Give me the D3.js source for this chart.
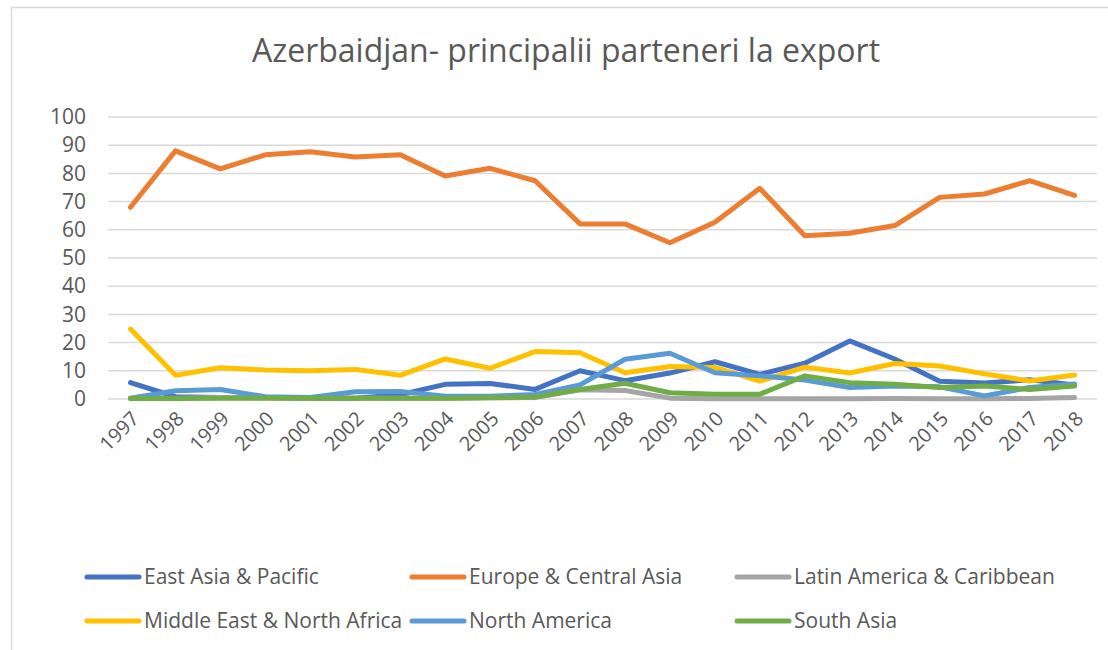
<!DOCTYPE html>
<html>
<head>
<meta charset="utf-8">
<script src="https://cdn.jsdelivr.net/npm/d3@7"></script>
<style>
  body { margin: 0; background: #fff; }
  svg { display: block; font-family: "Open Sans", "Liberation Sans", sans-serif; }
</style>
</head>
<body>
<svg id="chart"></svg>
<script>
// years on the x axis
var years = ["1997", "1998", "1999", "2000", "2001", "2002", "2003", "2004", "2005", "2006", "2007",
  "2008", "2009", "2010", "2011", "2012", "2013", "2014", "2015", "2016", "2017", "2018"];

var yTicks = [0, 10, 20, 30, 40, 50, 60, 70, 80, 90, 100];

// share of exports (%) per region
var eastAsia = [5.8, 0.8, 0.5, 0.5, 0.3, 0.3, 1.5, 5.2, 5.5, 3.4, 10.0, 6.5, 9.2, 13.2, 8.7, 12.7, 20.6, 14.2, 6.3, 5.7, 6.8, 5.0];
var europe = [68.0, 88.0, 81.6, 86.6, 87.7, 85.8, 86.6, 79.1, 81.8, 77.4, 62.1, 62.1, 55.4, 62.7, 74.7, 57.9, 58.8, 61.5, 71.5, 72.7, 77.4, 72.2];
var latinAmerica = [0.3, 0.3, 0.5, 0.4, 0.3, 0.3, 0.3, 0.3, 0.4, 0.5, 3.3, 3.0, 0.3, 0.1, 0.1, 0.1, 0.1, 0.2, 0.1, 0.1, 0.2, 0.5];
var middleEast = [24.8, 8.4, 11.1, 10.3, 10.0, 10.5, 8.4, 14.2, 10.9, 16.8, 16.4, 9.3, 11.5, 11.2, 6.3, 11.3, 9.2, 12.6, 11.7, 8.9, 6.4, 8.5];
var northAmerica = [0.3, 2.9, 3.4, 0.8, 0.5, 2.6, 2.7, 1.0, 1.0, 1.6, 5.0, 14.1, 16.2, 9.3, 8.2, 6.7, 4.1, 4.6, 4.3, 1.1, 4.1, 5.3];
var southAsia = [0.2, 0.2, 0.3, 0.3, 0.3, 0.3, 0.3, 0.3, 0.4, 0.7, 3.4, 5.6, 2.2, 1.7, 1.7, 8.2, 5.8, 5.2, 4.1, 4.6, 3.4, 4.6];

var seriesNames = ["East Asia & Pacific", "Europe & Central Asia", "Latin America & Caribbean",
  "Middle East & North Africa", "North America", "South Asia"];
var seriesValues = [eastAsia, europe, latinAmerica, middleEast, northAmerica, southAsia];
var seriesColors = ["#4472C4", "#ED7D31", "#A5A5A5", "#FFC000", "#5B9BD5", "#70AD47"];

var title = "Azerbaidjan- principalii parteneri la export";

var width = 1108;
var height = 650;
var textColor = "#595959";

var svg = d3.select("#chart")
  .attr("width", width)
  .attr("height", height);

// chart frame
svg.append("rect")
  .attr("x", 11.5)
  .attr("y", 7.5)
  .attr("width", width + 20)
  .attr("height", height + 20)
  .attr("fill", "#fff")
  .attr("stroke", "#d9d9d9")
  .attr("stroke-width", 1.5);

svg.append("text")
  .attr("x", 566)
  .attr("y", 62)
  .attr("text-anchor", "middle")
  .attr("fill", textColor)
  .style("font-size", "32px")
  .text(title);

var x = d3.scaleBand()
  .domain(years)
  .range([108, 1097]);

var y = d3.scaleLinear()
  .domain([0, 100])
  .range([399, 117]);

// horizontal gridlines
svg.append("g")
  .selectAll("line")
  .data(yTicks)
  .join("line")
  .attr("x1", x.range()[0])
  .attr("x2", x.range()[1])
  .attr("y1", d => y(d))
  .attr("y2", d => y(d))
  .attr("stroke", "#d9d9d9")
  .attr("stroke-width", 1.5);

// y axis labels
var yAxis = svg.append("g")
  .attr("transform", "translate(94,0)")
  .call(d3.axisLeft(y).tickValues(yTicks).tickSize(0).tickPadding(8));
yAxis.select(".domain").remove();
yAxis.selectAll("text")
  .attr("fill", textColor)
  .style("font-size", "21px")
  .style("font-family", "\"Open Sans\", sans-serif");

// x axis labels, turned 45 degrees
svg.append("g")
  .selectAll("text")
  .data(years)
  .join("text")
  .attr("transform", d => "translate(" + (x(d) + x.bandwidth() / 2 + 5) + ",415) rotate(-45)")
  .attr("text-anchor", "end")
  .attr("dy", "0.35em")
  .attr("fill", textColor)
  .style("font-size", "20px")
  .text(d => d);

var line = d3.line()
  .x((d, i) => x(years[i]) + x.bandwidth() / 2)
  .y(d => y(d));

svg.append("g")
  .selectAll("path")
  .data(seriesValues)
  .join("path")
  .attr("d", d => line(d))
  .attr("fill", "none")
  .attr("stroke", (d, i) => seriesColors[i])
  .attr("stroke-width", 5)
  .attr("stroke-linejoin", "round")
  .attr("stroke-linecap", "round");

// legend: three columns, two rows
var legend = svg.append("g")
  .selectAll("g")
  .data(seriesNames)
  .join("g")
  .attr("transform", (d, i) => "translate(" + (85 + (i % 3) * 325) + "," + (577 + Math.floor(i / 3) * 44) + ")");

legend.append("line")
  .attr("x1", 2)
  .attr("x2", 54)
  .attr("y1", 0)
  .attr("y2", 0)
  .attr("stroke", (d, i) => seriesColors[i])
  .attr("stroke-width", 5)
  .attr("stroke-linecap", "round");

legend.append("text")
  .attr("x", 59)
  .attr("y", 0)
  .attr("dy", "0.35em")
  .attr("fill", textColor)
  .style("font-size", "21px")
  .text(d => d);
</script>
</body>
</html>
